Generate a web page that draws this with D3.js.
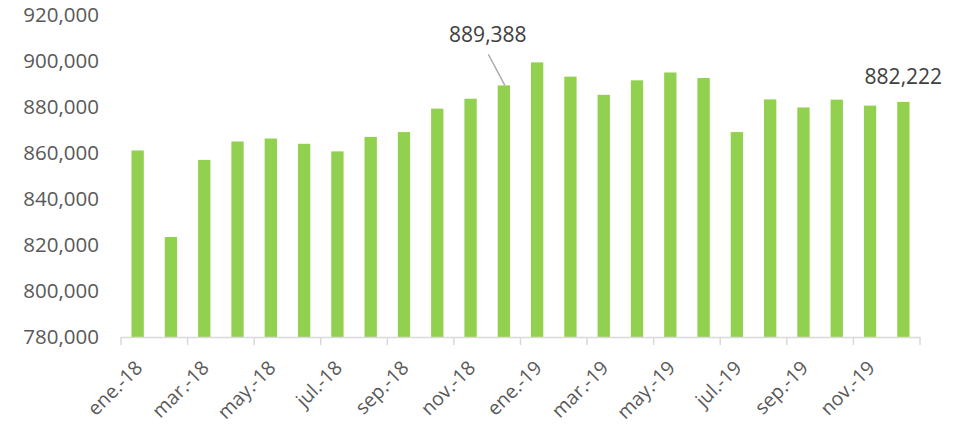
<!DOCTYPE html>
<html>
<head>
<meta charset="utf-8">
<script src="https://cdn.jsdelivr.net/npm/d3@7"></script>
<style>
  body { margin: 0; background: #fff; }
  text { font-family: "Open Sans", sans-serif; }
</style>
</head>
<body>
<div id="chart-area"></div>
<script>
// Data
var months = ["ene.-18", "feb.-18", "mar.-18", "abr.-18", "may.-18", "jun.-18",
              "jul.-18", "ago.-18", "sep.-18", "oct.-18", "nov.-18", "dic.-18",
              "ene.-19", "feb.-19", "mar.-19", "abr.-19", "may.-19", "jun.-19",
              "jul.-19", "ago.-19", "sep.-19", "oct.-19", "nov.-19", "dic.-19"]
var values = [861100, 823500, 857000, 865000, 866300, 864000,
              860700, 867000, 869100, 879300, 883600, 889388,
              899400, 893200, 885300, 891600, 895000, 892600,
              869100, 883300, 879800, 883200, 880600, 882222]
var yTicks = [780000, 800000, 820000, 840000, 860000, 880000, 900000, 920000]
var callouts = [{month: "dic.-18", text: "889,388"}, {month: "dic.-19", text: "882,222"}]

var width = 969, height = 425
var margin = {left: 121, right: 920, top: 15, bottom: 337}

var svg = d3.select("#chart-area")
    .append("svg")
        .attr("width", width)
        .attr("height", height)

// Scales
var x = d3.scaleBand()
    .domain(months)
    .range([margin.left, margin.right])
    .paddingInner(0.63)
    .paddingOuter(0.315)

var y = d3.scaleLinear()
    .domain([780000, 920000])
    .range([margin.bottom, margin.top])

var fmt = d3.format(",")

// Y axis (labels only)
var yAxis = svg.append("g")
    .attr("transform", "translate(" + margin.left + ",0)")
    .call(d3.axisLeft(y).tickValues(yTicks).tickSize(0).tickPadding(22).tickFormat(fmt))
yAxis.select(".domain").remove()
yAxis.selectAll("text")
    .attr("font-size", 20.5)
    .attr("fill", "#595959")
    .style("font-family", "'Open Sans', sans-serif")

// Bars
svg.selectAll("rect.bar")
    .data(values)
    .enter()
    .append("rect")
        .attr("class", "bar")
        .attr("x", (d, i) => x(months[i]))
        .attr("width", x.bandwidth())
        .attr("y", d => y(d))
        .attr("height", d => y(780000) - y(d))
        .attr("fill", "#92d050")

// X axis line and ticks every two months
var step = x.step()
svg.append("line")
    .attr("x1", margin.left).attr("x2", margin.right)
    .attr("y1", margin.bottom + 0.5).attr("y2", margin.bottom + 0.5)
    .attr("stroke", "#d9d9d9").attr("stroke-width", 1.5)

var tickIdx = d3.range(0, months.length + 1, 2)
svg.selectAll("line.xtick")
    .data(tickIdx)
    .enter()
    .append("line")
        .attr("class", "xtick")
        .attr("x1", d => margin.left + d * step)
        .attr("x2", d => margin.left + d * step)
        .attr("y1", margin.bottom)
        .attr("y2", margin.bottom + 8)
        .attr("stroke", "#d9d9d9").attr("stroke-width", 1.5)

// X labels, rotated
svg.selectAll("text.xlabel")
    .data(months.filter((m, i) => i % 2 == 0))
    .enter()
    .append("text")
        .attr("class", "xlabel")
        .attr("text-anchor", "end")
        .attr("font-size", 19.5)
        .attr("fill", "#595959")
        .attr("transform", d => "translate(" + (x(d) + x.bandwidth() / 2 + 6) + "," + (margin.bottom + 32) + ") rotate(-45)")
        .text(d => d)

// Value callouts
var c0 = callouts[0]
var i0 = months.indexOf(c0.month)
var bx0 = x(c0.month) + x.bandwidth() / 2
svg.append("line")
    .attr("x1", bx0 - 15.5).attr("y1", y(values[i0]) - 31)
    .attr("x2", bx0 + 1).attr("y2", y(values[i0]))
    .attr("stroke", "#a6a6a6").attr("stroke-width", 1.3)
svg.append("text")
    .attr("x", bx0 - 16)
    .attr("y", y(values[i0]) - 43)
    .attr("text-anchor", "middle")
    .attr("font-size", 21)
    .attr("fill", "#404040")
    .text(c0.text)

var c1 = callouts[1]
var i1 = months.indexOf(c1.month)
var bx1 = x(c1.month) + x.bandwidth() / 2
svg.append("text")
    .attr("x", bx1)
    .attr("y", y(values[i1]) - 18)
    .attr("text-anchor", "middle")
    .attr("font-size", 21)
    .attr("fill", "#404040")
    .text(c1.text)
</script>
</body>
</html>
